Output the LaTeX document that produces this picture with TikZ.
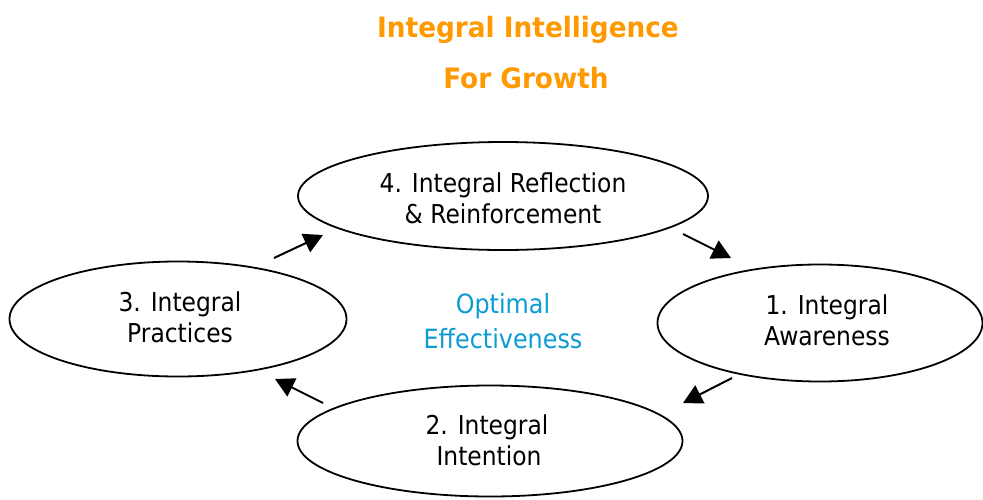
\documentclass[tikz,border=0pt]{standalone}
\usepackage{fontspec}
\setmainfont{DejaVu Sans}
\newfontfamily\lblfont[FakeStretch=0.9]{DejaVu Sans}
\newfontfamily\ttlfont[FakeStretch=0.94]{DejaVu Sans}
\usetikzlibrary{shapes.geometric,arrows.meta}
\definecolor{titleorange}{HTML}{FF9900}
\definecolor{centerblue}{HTML}{0D9BD3}
\tikzset{
  stage/.style={draw=black, line width=1.8pt, ellipse, inner sep=0pt},
  lbl/.style={anchor=base, inner sep=0pt, font=\lblfont\fontsize{26}{30}\selectfont},
  ttl/.style={anchor=base, inner sep=0pt, text=titleorange, font=\ttlfont\fontsize{28}{32}\selectfont\bfseries},
  mid/.style={anchor=base, inner sep=0pt, text=centerblue, font=\lblfont\fontsize{26.5}{30}\selectfont},
  flow/.style={draw=black, line width=2pt, -{Triangle[length=19pt,width=20pt]}}
}
\begin{document}
\begin{tikzpicture}[x=1pt,y=-1pt]
\useasboundingbox (0,0) rectangle (983,499);
% title
\node[ttl] (title1) at (528,37) {Integral Intelligence};
\node[ttl] (title2) at (526,88) {For Growth};
% ellipses
\node[stage, minimum width=410pt, minimum height=108pt] (e4) at (503,196) {};
\node[stage, minimum width=337pt, minimum height=115pt] (e3) at (178,319) {};
\node[stage, minimum width=325pt, minimum height=117pt] (e1) at (820,323) {};
\node[stage, minimum width=385pt, minimum height=111pt] (e2) at (490,441) {};
% labels
\node[lbl] (t4a) at (503,192) {4. Integral Reflection};
\node[lbl] (t4b) at (503,223) {\& Reinforcement};
\node[lbl] (t3a) at (180,311) {3. Integral};
\node[lbl] (t3b) at (180,342) {Practices};
\node[lbl] (t1a) at (827,314) {1. Integral};
\node[lbl] (t1b) at (827,345) {Awareness};
\node[lbl] (t2a) at (487,434) {2. Integral};
\node[lbl] (t2b) at (489,465) {Intention};
% centre
\node[mid] (c1) at (503,313) {Optimal};
\node[mid] (c2) at (503,348) {Effectiveness};
% arrow ends
\coordinate (a34s) at (274,258); \coordinate (a34e) at (323,235);
\coordinate (a41s) at (683,234); \coordinate (a41e) at (731,258);
\coordinate (a12s) at (732,378); \coordinate (a12e) at (683,403);
\coordinate (a23s) at (323,403); \coordinate (a23e) at (275,379);
\draw[flow] (a34s) -- (a34e);
\draw[flow] (a41s) -- (a41e);
\draw[flow] (a12s) -- (a12e);
\draw[flow] (a23s) -- (a23e);
\end{tikzpicture}
\end{document}
